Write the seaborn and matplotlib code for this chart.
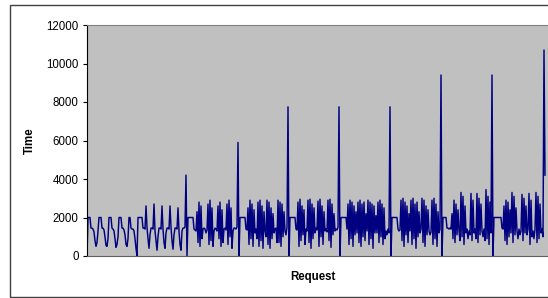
import numpy as np
import pandas as pd
import matplotlib
matplotlib.use("Agg")
import matplotlib.pyplot as plt
import seaborn as sns
from matplotlib.patches import Rectangle

# -----------------------------
# Data (one block per test run)
# -----------------------------

seg1 = [0, 2000, 2000, 2000, 1450, 1450, 1400, 1250, 800, 500, 700, 1300,
        2000, 2000, 2000, 1450, 1450, 1350, 1000, 550, 500, 900,
        2000, 2000, 2000, 1450, 1400, 1300, 900, 450, 600, 1000,
        2000, 2000, 2000, 1450, 1450, 1350, 1100, 600, 500, 900,
        2000, 2000, 1450, 1400, 1400, 1300, 900, 400, 0]

seg2 = [2000, 2000, 2000, 2000, 2000, 1450, 1450, 1400, 2600, 1500, 900, 400, 1100, 1450,
        1450, 1400, 2700, 1300, 800, 300, 1000, 1450, 1450,
        1400, 2600, 1400, 700, 400, 1200, 1450, 1450,
        1400, 2600, 1500, 800, 350, 1100, 1450, 1450,
        1400, 2500, 1300, 600, 300, 1300, 1450, 1450, 1500, 4200, 0]

seg3 = [2000, 2000, 2000, 2000, 2000, 2000, 1400, 1350, 1300,
        2300, 700, 2800, 500, 2600, 900, 1400,
        1450, 1400, 1200, 1350,
        2700, 600, 2900, 800, 2500, 500, 1300,
        1450, 1400, 1300,
        2600, 900, 2800, 500, 2400, 700, 1400,
        1450, 1350,
        2700, 600, 2900, 1000, 2500, 400, 1300,
        1450, 1450, 1400, 1500, 5900, 0]

seg4 = [2000, 2000, 2000, 2000, 2000, 2000, 1400, 1350,
        2500, 600, 2900, 900, 2700, 500, 2400, 1200,
        1400, 900,
        2800, 500, 2900, 800, 2600, 400, 2300,
        1300, 1000,
        2900, 600, 2800, 400, 2500, 900, 2200, 1200,
        1400, 1450, 700,
        2900, 700, 2800, 500, 2700, 1000, 2300,
        1300, 1100, 1500, 7750, 0]

seg5 = [2000, 2000, 2000, 2000, 2000, 2000, 1400, 1350,
        2800, 500, 2950, 800, 2600, 1100, 2400, 600,
        1400, 1300,
        2900, 700, 2950, 400, 2700, 900, 2500, 1200,
        1450, 1350,
        2850, 500, 2950, 1000, 2600, 600, 2300, 1300,
        1400, 1250,
        2900, 800, 2950, 450, 2700, 1100, 2200,
        1300, 1400, 1350, 1500, 7750, 0]

seg6 = [2000, 2000, 2000, 2000, 2000, 2000, 1400,
        2700, 600, 2900, 900, 2800, 500, 2600, 1100, 2300,
        1200,
        2800, 700, 2900, 500, 2700, 1000, 2800, 800, 2200,
        1300,
        2900, 600, 2800, 900, 2700, 400, 2600, 1200, 2100,
        1200,
        2800, 700, 2900, 1000, 2700, 600, 2500, 900,
        1300, 1100, 1400, 1200, 7750, 0]

seg7 = [2000, 2000, 2000, 2000, 2000, 2000, 1400, 1300, 1350,
        2900, 800, 3000, 500, 2800, 1100, 2600, 700, 2200,
        1300,
        2900, 600, 3000, 900, 2700, 400, 2800, 1000, 2300,
        1200, 1400,
        3000, 700, 2900, 500, 2600, 1100, 2400,
        1300, 1100, 1250,
        2900, 600, 3000, 900, 2700, 500, 2300,
        1200, 1400, 9400, 0]

seg8 = [2000, 2000, 2000, 2000, 1450, 1450, 1400, 1450, 1400,
        2200, 900, 2900, 700, 2700, 1100, 2400,
        1300, 800,
        3300, 1000, 3100, 600, 2600,
        1200, 1400, 900, 1300, 1100,
        3250, 800, 2900, 1200,
        1400, 900,
        3250, 700, 3000, 1100, 2700,
        1300, 1000, 1400, 800,
        3450, 900, 3100, 600, 2800, 1200,
        9400, 0]

seg9 = [2000, 2000, 2000, 2000, 2000, 2000, 2000, 2000, 1450, 1400,
        2600, 800, 2900, 600, 2800, 1000, 2400, 1200,
        3300, 700, 3100, 1100, 2500,
        1300, 900, 1400, 1100, 1300,
        3200, 800, 3000, 1200, 2600,
        1100, 1400,
        3250, 600, 2900, 1000,
        1300, 900, 1400,
        3300, 700, 3100, 900, 2700, 1200,
        1400, 1000, 10700, 4200]

y_ticks = [0, 2000, 4000, 6000, 8000, 10000, 12000]

times = seg1 + seg2 + seg3 + seg4 + seg5 + seg6 + seg7 + seg8 + seg9
data = pd.DataFrame({"Request": np.arange(len(times)), "Time": times})

# -----------------------------
# Plot
# -----------------------------

plt.rcParams["font.family"] = ["Liberation Sans", "DejaVu Sans"]

W, H = 548, 298
fig = plt.figure(figsize=(W / 100, H / 100), dpi=100)
fig.patch.set_facecolor("white")

# chart border
fig.patches.append(Rectangle((10 / W, 1 - 296.5 / H), 560 / W, 291.5 / H,
                             transform=fig.transFigure, fill=False,
                             edgecolor="#404040", linewidth=1.0))

ax = fig.add_axes([87 / W, 1 - 256 / H, 462 / W, 231 / H])
ax.set_facecolor("#c0c0c0")

sns.lineplot(data=data, x="Request", y="Time", ax=ax, color="#000080",
             linewidth=1.05, estimator=None)

ax.set_xlim(0, 462)
ax.set_ylim(0, 12000)
ax.set_yticks(y_ticks)
ax.set_xticks([])
ax.set_xlabel("")
ax.set_ylabel("")
ax.tick_params(axis="y", length=3, width=0.8, pad=3, labelsize=8.3,
               colors="black")

for side in ["top", "right"]:
    ax.spines[side].set_color("#808080")
    ax.spines[side].set_linewidth(0.8)
ax.spines["left"].set_color("black")
ax.spines["left"].set_linewidth(0.8)
ax.spines["bottom"].set_color("#606060")
ax.spines["bottom"].set_linewidth(0.8)

fig.text(30 / W, 1 - 140.5 / H, "Time", rotation=90, fontsize=8.3,
         fontweight="bold", ha="center", va="center")
fig.text(313 / W, 1 - 277 / H, "Request", fontsize=8.3,
         fontweight="bold", ha="center", va="center")

fig.savefig("out.png", dpi=100)
